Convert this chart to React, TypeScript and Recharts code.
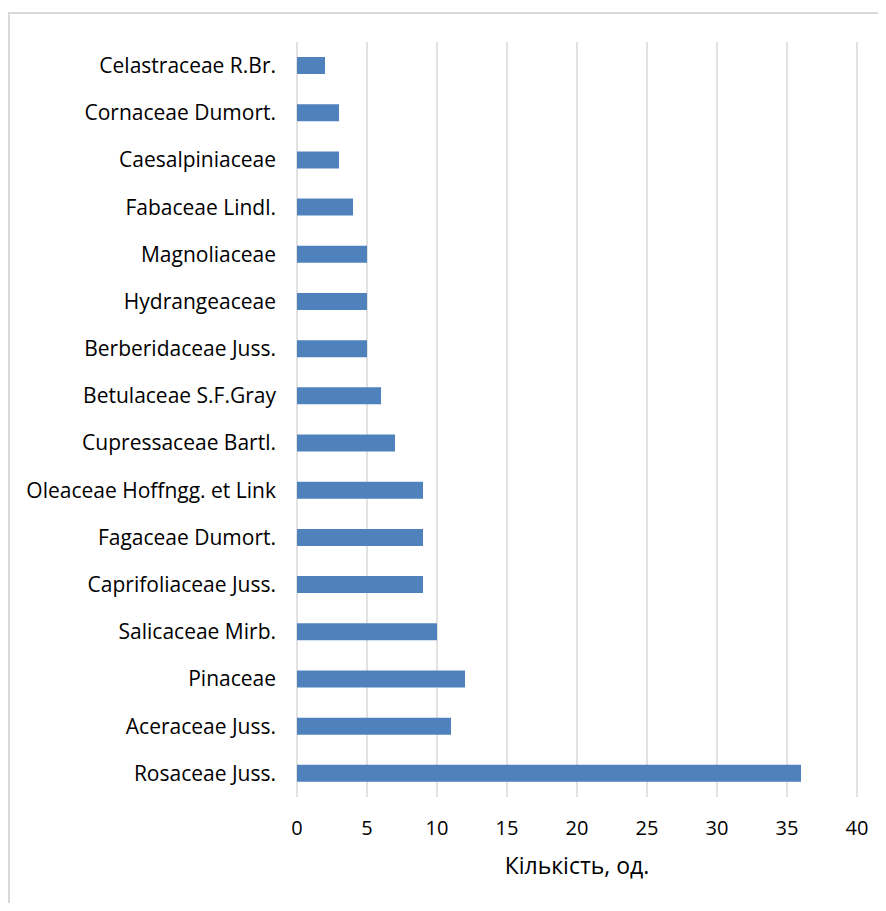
import { BarChart, Bar, XAxis, YAxis, CartesianGrid } from 'recharts';

const families = [
  'Celastraceae R.Br.',
  'Cornaceae Dumort.',
  'Caesalpiniaceae',
  'Fabaceae Lindl.',
  'Magnoliaceae',
  'Hydrangeaceae',
  'Berberidaceae Juss.',
  'Betulaceae S.F.Gray',
  'Cupressaceae Bartl.',
  'Oleaceae Hoffngg. et Link',
  'Fagaceae Dumort.',
  'Caprifoliaceae Juss.',
  'Salicaceae Mirb.',
  'Pinaceae',
  'Aceraceae Juss.',
  'Rosaceae Juss.',
];
const counts = [2, 3, 3, 4, 5, 5, 5, 6, 7, 9, 9, 9, 10, 12, 11, 36];
const xTicks = [0, 5, 10, 15, 20, 25, 30, 35, 40];

const chartData = families.map((name, i) => ({ name, count: counts[i] }));

const font = '"Open Sans", sans-serif';

function CategoryTick({ x, y, payload }: any) {
  return (
    <text x={x} y={y} dy="0.35em" textAnchor="end" fontSize={21} fontFamily={font} fill="#000">
      {payload.value}
    </text>
  );
}

function ValueTick({ x, y, payload }: any) {
  return (
    <text x={x} y={y} dy="0.35em" textAnchor="middle" fontSize={20} fontFamily={font} fill="#000">
      {payload.value}
    </text>
  );
}

function AxisTitle({ viewBox }: any) {
  const { x, y, width } = viewBox;
  return (
    <text x={x + width / 2} y={y + 69} dy="0.35em" textAnchor="middle" fontSize={23} fontFamily={font} fill="#000">
      Кількість, од.
    </text>
  );
}

export default function App() {
  return (
    <div style={{ position: 'relative', width: 886, height: 911, margin: -8, overflow: 'hidden', background: '#fff' }}>
      <div
        style={{
          position: 'absolute',
          left: 8,
          top: 12,
          width: 900,
          height: 950,
          border: '2px solid #d9d9d9',
        }}
      />
      <div style={{ position: 'absolute', left: 0, top: 0 }}>
        <BarChart
          width={886}
          height={911}
          data={chartData}
          layout="vertical"
          margin={{ top: 42, right: 29, bottom: 24, left: 0 }}
        >
          <CartesianGrid horizontal={false} stroke="#d9d9d9" strokeWidth={1.5} />
          <XAxis
            type="number"
            domain={[0, 40]}
            ticks={xTicks}
            height={90}
            tickLine={false}
            axisLine={false}
            tickSize={0}
            tickMargin={31}
            tick={<ValueTick />}
            label={<AxisTitle />}
          />
          <YAxis
            type="category"
            dataKey="name"
            width={297}
            tickLine={false}
            axisLine={false}
            tickSize={0}
            tickMargin={21}
            interval={0}
            tick={<CategoryTick />}
          />
          <Bar dataKey="count" fill="#4f81bd" barSize={17} isAnimationActive={false} />
        </BarChart>
      </div>
    </div>
  );
}
